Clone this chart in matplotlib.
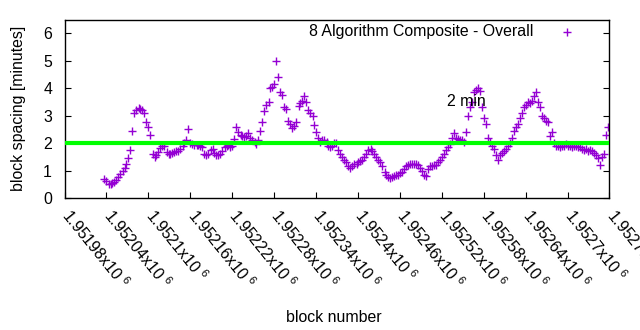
import numpy as np
import matplotlib
matplotlib.use("Agg")
import matplotlib.pyplot as plt
from matplotlib.transforms import ScaledTranslation

plt.rcParams['font.family'] = ['Liberation Sans', 'DejaVu Sans']
plt.rcParams['mathtext.fontset'] = 'custom'
plt.rcParams['mathtext.rm'] = 'Liberation Sans'
plt.rcParams['mathtext.it'] = 'Liberation Sans'

# ---- data ----
block_first = 1952037
block_last = 1952758
spacing_minutes = [
    0.70, 0.62, 0.52, 0.50, 0.53, 0.58, 0.66, 0.75, 0.88, 1.00,
    1.10, 1.22, 1.45, 1.75, 2.45, 3.10, 3.20, 3.28, 3.25, 3.22,
    3.10, 2.75, 2.60, 2.28, 1.62, 1.50, 1.55, 1.68, 1.82, 1.88,
    1.90, 1.68, 1.62, 1.60, 1.63, 1.66, 1.70, 1.72, 1.78, 1.90,
    2.00, 2.10, 2.50, 2.02, 1.95, 1.93, 1.92, 1.94, 1.90, 1.85,
    1.60, 1.55, 1.62, 1.75, 1.80, 1.65, 1.58, 1.55, 1.62, 1.72,
    1.85, 1.90, 1.93, 1.85, 1.88, 2.15, 2.60, 2.40, 2.30, 2.25,
    2.22, 2.25, 2.38, 2.20, 2.12, 2.05, 1.95, 2.10, 2.45, 2.75,
    3.15, 3.40, 3.50, 4.00, 4.05, 4.15, 5.00, 4.40, 3.85, 3.75,
    3.30, 3.25, 2.80, 2.70, 2.55, 2.62, 2.75, 3.35, 3.45, 3.55,
    3.70, 3.50, 3.20, 3.10, 3.00, 2.65, 2.40, 2.20, 2.05, 2.10,
    2.10, 2.05, 1.90, 1.85, 1.90, 2.00, 2.00, 1.75, 1.62, 1.50,
    1.40, 1.30, 1.15, 1.10, 1.15, 1.25, 1.25, 1.30, 1.35, 1.40,
    1.50, 1.60, 1.75, 1.78, 1.70, 1.60, 1.50, 1.38, 1.30, 1.15,
    0.95, 0.85, 0.75, 0.72, 0.75, 0.80, 0.82, 0.85, 0.90, 0.95,
    1.05, 1.15, 1.20, 1.22, 1.25, 1.25, 1.22, 1.20, 1.10, 1.00,
    0.85, 0.80, 1.05, 1.15, 1.15, 1.20, 1.20, 1.30, 1.40, 1.50,
    1.60, 1.75, 1.85, 1.95, 2.20, 2.35, 2.20, 2.15, 2.10, 2.10,
    2.05, 2.40, 3.00, 3.30, 3.50, 3.85, 3.95, 4.00, 3.90, 3.30,
    2.90, 2.70, 2.20, 2.05, 1.90, 1.80, 1.55, 1.40, 1.55, 1.65,
    1.70, 1.80, 1.90, 2.00, 2.20, 2.45, 2.60, 2.70, 2.90, 3.10,
    3.30, 3.40, 3.50, 3.45, 3.55, 3.70, 3.85, 3.50, 3.30, 3.00,
    2.90, 2.80, 2.75, 2.25, 2.40, 2.00, 1.90, 1.88, 1.85, 1.90,
    1.88, 1.95, 1.90, 1.90, 1.85, 1.88, 1.90, 1.85, 1.85, 1.80,
    1.75, 1.80, 1.72, 1.75, 1.70, 1.65, 1.55, 1.45, 1.20, 1.50,
    1.60, 2.30, 2.60,
]
blocks = np.round(np.linspace(block_first, block_last, len(spacing_minutes)))

target_minutes = 2
x_min, x_max = 1951980, 1952760
x_ticks = [1951980 + 60 * k for k in range(14)]
y_ticks = [0, 1, 2, 3, 4, 5, 6]
series_label = "8 Algorithm Composite - Overall"
annot_text = "2 min"
annot_x, annot_y = 1952527, 3.5

FS = 11.4
purple = '#9400D3'

# ---- figure ----
fig = plt.figure(figsize=(6.4, 3.3), dpi=100)
ax = fig.add_axes([0.1008, 0.4, 0.8515, 0.5409])

ax.plot(blocks, spacing_minutes, linestyle='none', marker='+',
        color=purple, markersize=5.5, markeredgewidth=1.0, zorder=2)
ax.axhline(target_minutes, color='#00FF00', linewidth=3.0, zorder=3)

ax.set_xlim(x_min, x_max)
ax.set_ylim(0, 6.5)
ax.set_yticks(y_ticks)
ax.set_xticks(x_ticks)
ax.set_xticklabels([f"{v/1e6:g}x10 $^{{6}}$" for v in x_ticks],
                   rotation=-51, ha='left', va='top', rotation_mode='anchor')
ax.tick_params(axis='both', direction='in', length=4, width=0.8,
               labelsize=FS, colors='black')
ax.tick_params(axis='y', right=True, pad=9)
ax.tick_params(axis='x', top=False, pad=6)
shift = ScaledTranslation(8 / 100, 0, fig.dpi_scale_trans)
for lab in ax.get_xticklabels():
    lab.set_transform(lab.get_transform() + shift)
for sp in ax.spines.values():
    sp.set_linewidth(1.0)

ax.set_ylabel("block spacing [minutes]", fontsize=FS, labelpad=12)
ax.set_xlabel("block number", fontsize=FS)
ax.xaxis.set_label_coords(0.495, -0.626)

ax.text(annot_x, annot_y, annot_text, fontsize=FS, ha='left', va='center',
        zorder=4)

# key (gnuplot style: text then sample marker)
ax.text(0.8596, 0.930, series_label, transform=ax.transAxes, fontsize=FS,
        ha='right', va='center')
ax.plot([0.922], [0.930], transform=ax.transAxes, linestyle='none',
        marker='+', color=purple, markersize=5.5, markeredgewidth=1.0,
        clip_on=False)

fig.savefig("out.png", dpi=100)
